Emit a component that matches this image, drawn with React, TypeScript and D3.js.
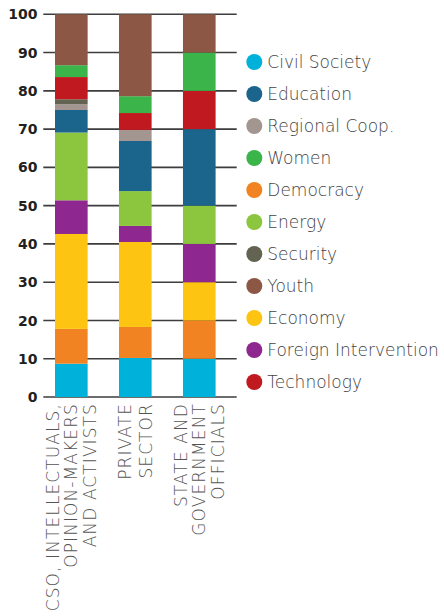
import React, { useEffect, useRef } from 'react';
import * as d3 from 'd3';

// Groups (x axis), one label line per entry
const groups = ['CSO', 'PRIVATE', 'STATE'];
const groupLabels = [
  ['CSO, INTELLECTUALS,', 'OPINION-MAKERS', 'AND ACTIVISTS'],
  ['PRIVATE', 'SECTOR'],
  ['STATE AND', 'GOVERNMENT', 'OFFICIALS']
];

// Stack order, bottom to top
const topics = [
  'Civil Society', 'Democracy', 'Economy', 'Foreign Intervention', 'Energy',
  'Education', 'Regional Coop.', 'Security', 'Technology', 'Women', 'Youth'
];

// Share (%) per topic, same order as topics
const csoValues     = [8.7, 9.1, 24.8, 8.8, 17.7, 5.9, 1.5, 1.3, 5.8, 3.1, 13.3];
const privateValues = [10.2, 8.1, 22.2, 4.2, 9.1, 13.1, 2.9, 0, 4.4, 4.4, 21.4];
const stateValues   = [10, 10, 10, 10, 10, 20, 0, 0, 10, 10, 10];

const legendOrder = [
  'Civil Society', 'Education', 'Regional Coop.', 'Women', 'Democracy', 'Energy',
  'Security', 'Youth', 'Economy', 'Foreign Intervention', 'Technology'
];

const yTicks = [0, 10, 20, 30, 40, 50, 60, 70, 80, 90, 100];

const topicColors = {
  'Civil Society': '#00b1da',
  'Education': '#1b658d',
  'Regional Coop.': '#a3958f',
  'Women': '#3bb54a',
  'Democracy': '#f28322',
  'Energy': '#8cc63f',
  'Security': '#626451',
  'Youth': '#8d5745',
  'Economy': '#fdc512',
  'Foreign Intervention': '#8e278f',
  'Technology': '#c0191f'
};

function StackedChart() {
  const svgRef = useRef<SVGSVGElement>(null);

  useEffect(() => {
    const svg = d3.select(svgRef.current);
    svg.selectAll('*').remove();

    const width = 444;
    const height = 616;
    svg.attr('width', width).attr('height', height);

    const allValues = [csoValues, privateValues, stateValues];
    const rows = groups.map((g, i) => {
      const row: any = { group: g };
      topics.forEach((t, j) => { row[t] = allValues[i][j]; });
      return row;
    });

    const stack = d3.stack().keys(topics);
    const series = stack(rows);

    const x = d3.scaleBand()
      .domain(groups)
      .range([55, 215.6])
      .paddingInner(0.49)
      .paddingOuter(0);

    const y = d3.scaleLinear()
      .domain([0, 100])
      .range([397, 14.3]);

    // Gridlines
    svg.append('g')
      .selectAll('line')
      .data(yTicks)
      .join('line')
      .attr('x1', 43.3)
      .attr('x2', 236.7)
      .attr('y1', d => y(d))
      .attr('y2', d => y(d))
      .attr('stroke', '#3d3d3d')
      .attr('stroke-width', 1.6);

    // Tick labels
    svg.append('g')
      .selectAll('text')
      .data(yTicks)
      .join('text')
      .attr('x', 37.5)
      .attr('y', d => y(d))
      .attr('dy', '0.36em')
      .attr('text-anchor', 'end')
      .attr('font-family', 'DejaVu Sans')
      .attr('font-weight', 'bold')
      .attr('font-size', '14px')
      .attr('fill', '#231f20')
      .text(d => d);

    // Bars
    svg.append('g')
      .selectAll('g')
      .data(series)
      .join('g')
      .attr('fill', d => topicColors[d.key])
      .selectAll('rect')
      .data(d => d)
      .join('rect')
      .attr('x', d => x(d.data.group))
      .attr('width', x.bandwidth())
      .attr('y', d => y(d[1]))
      .attr('height', d => y(d[0]) - y(d[1]));

    // Rotated category labels
    const labelG = svg.append('g')
      .attr('font-family', 'DejaVu Sans')
      .attr('font-weight', 300)
      .attr('font-size', '17px')
      .attr('letter-spacing', '1.1px')
      .attr('fill', '#555');

    groups.forEach((g, i) => {
      const lines = groupLabels[i];
      const cx = x(g) + x.bandwidth() / 2;
      const step = i === 1 ? 21.5 : 18.5;
      lines.forEach((line, k) => {
        const off = (k - (lines.length - 1) / 2) * step;
        labelG.append('text')
          .attr('transform', `translate(${cx + off + 6},403) rotate(-90)`)
          .attr('text-anchor', 'end')
          .text(line);
      });
    });

    // Legend
    const legend = svg.append('g')
      .selectAll('g')
      .data(legendOrder)
      .join('g')
      .attr('transform', (d, i) => `translate(254.3,${62 + i * 32})`);

    legend.append('circle')
      .attr('r', 8)
      .attr('fill', d => topicColors[d]);

    legend.append('text')
      .attr('x', 13)
      .attr('dy', '0.36em')
      .attr('font-family', 'DejaVu Sans')
      .attr('font-weight', 300)
      .attr('font-size', '17px')
      .attr('fill', '#444')
      .text(d => d);
  }, []);

  return <svg ref={svgRef} style={{ position: 'absolute', left: 0, top: 0 }} />;
}

export default function App() {
  return <StackedChart />;
}
